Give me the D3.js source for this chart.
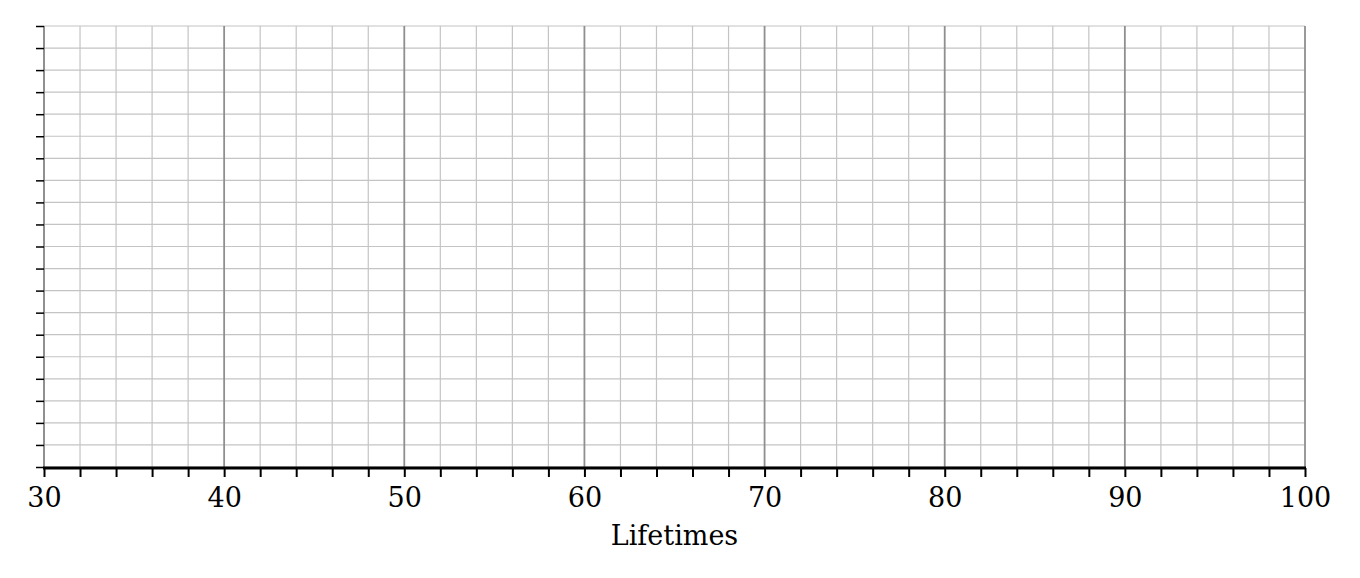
<!DOCTYPE html>
<html><head><meta charset="utf-8">
<script src="https://cdn.jsdelivr.net/npm/d3@7"></script>
<style>body{margin:0;background:#fff}svg{display:block}</style>
</head><body>
<script>
const xDomain = [30, 100];
const xMajorTicks = [30, 40, 50, 60, 70, 80, 90, 100];
const xMinorStep = 2;
const yDomain = [0, 20];
const yTickCount = 20;
const xTitle = "Lifetimes";

const W = 1360, H = 578;
const m = {left: 44, right: 55, top: 26, bottom: 111};
const iw = W - m.left - m.right, ih = H - m.top - m.bottom;
const svg = d3.select("body").append("svg").attr("width", W).attr("height", H);
const g = svg.append("g").attr("transform", `translate(${m.left},${m.top})`);
const x = d3.scaleLinear().domain(xDomain).range([0, iw]);
const y = d3.scaleLinear().domain(yDomain).range([ih, 0]);
const minor = d3.range(xDomain[0], xDomain[1] + 0.001, xMinorStep);
const yt = d3.range(yDomain[0], yDomain[1] + 0.001, (yDomain[1]-yDomain[0])/yTickCount);

// horizontal grid
g.selectAll(".hg").data(yt).join("line")
  .attr("x1", 0).attr("x2", iw).attr("y1", d => y(d)).attr("y2", d => y(d))
  .attr("stroke", "#c4c4c4").attr("stroke-width", 1.2);
// minor vertical grid
g.selectAll(".vg").data(minor.filter(d => d % 10 !== 0)).join("line")
  .attr("y1", 0).attr("y2", ih).attr("x1", d => x(d)).attr("x2", d => x(d))
  .attr("stroke", "#c4c4c4").attr("stroke-width", 1.2);
// major vertical grid
g.selectAll(".vM").data(xMajorTicks).join("line")
  .attr("y1", 0).attr("y2", ih).attr("x1", d => x(d)).attr("x2", d => x(d))
  .attr("stroke", "#8f8f8f").attr("stroke-width", 1.8);

// y axis
const ya = g.append("g").call(d3.axisLeft(y).tickValues(yt).tickSize(8).tickFormat(""));
ya.select(".domain").attr("stroke", "#8f8f8f").attr("stroke-width", 1.8).attr("d", `M0,${ih}V0`);
ya.selectAll(".tick line").attr("stroke", "#000").attr("stroke-width", 1.5);

// x axis
const xa = g.append("g").attr("transform", `translate(0,${ih+1})`)
  .call(d3.axisBottom(x).tickValues(minor).tickSize(9).tickFormat(d => xMajorTicks.includes(d) ? d : ""));
xa.select(".domain").attr("stroke", "#000").attr("stroke-width", 3).attr("d", `M-1,0H${iw+1}`);
xa.selectAll(".tick line").attr("stroke", "#000").attr("stroke-width", 2);
xa.selectAll(".tick text").attr("font-family", "DejaVu Serif").attr("font-size", 27)
  .attr("fill", "#000").attr("dy", null).attr("y", 39);

svg.append("text").attr("x", m.left + iw/2).attr("y", 545).attr("text-anchor", "middle")
  .attr("font-family", "DejaVu Serif").attr("font-size", 27).attr("fill", "#000").text(xTitle);
</script>
</body></html>
